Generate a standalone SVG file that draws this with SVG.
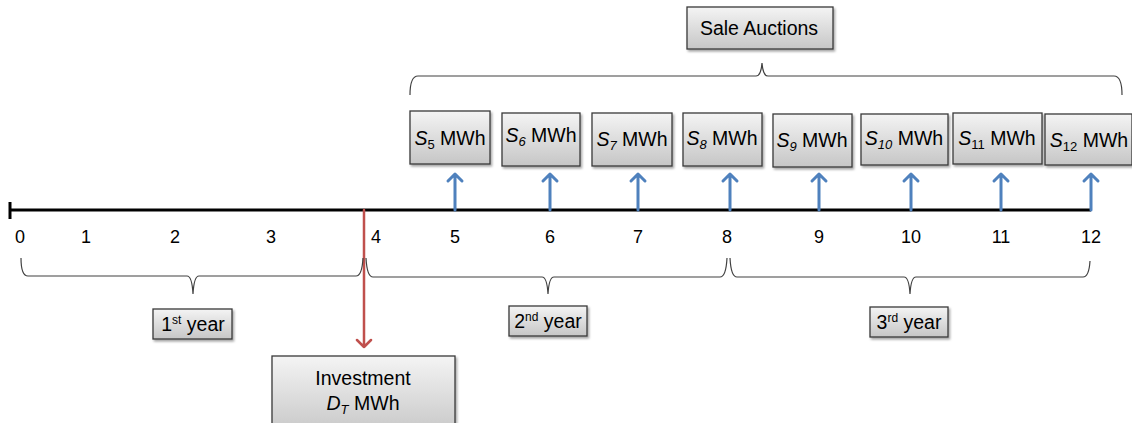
<svg xmlns="http://www.w3.org/2000/svg" width="1132" height="423" viewBox="0 0 1132 423">
<defs>
<linearGradient id="g" x1="0" y1="0" x2="0" y2="1">
<stop offset="0" stop-color="#f4f4f4"/>
<stop offset="1" stop-color="#c6c6c6"/>
</linearGradient>
<filter id="sh" x="-10%" y="-10%" width="130%" height="140%">
<feDropShadow dx="1.5" dy="2" stdDeviation="1.2" flood-color="#000" flood-opacity="0.35"/>
</filter>
</defs>
<style>
.box{fill:url(#g);stroke:#3a3a3a;stroke-width:1.3;filter:url(#sh)}
.t{font-family:"Liberation Sans",Arial,sans-serif;font-size:19.5px;fill:#000;text-anchor:middle}
.n{font-family:"Liberation Sans",Arial,sans-serif;font-size:18px;fill:#000;text-anchor:middle}
.i{font-style:italic}
.sub{font-size:13px}
.sup{font-size:12px}
.br{fill:none;stroke:#404040;stroke-width:1.2}
.blue{stroke:#4f81bd;stroke-width:3;fill:none;stroke-linecap:round;stroke-linejoin:round}
.red{stroke:#c0504d;stroke-width:2.5;fill:none;stroke-linecap:round;stroke-linejoin:round}
</style>

<g id="connectors">
<line x1="10" y1="210" x2="1091" y2="210" stroke="#000" stroke-width="3"/>
<line x1="10" y1="202" x2="10" y2="219" stroke="#000" stroke-width="3"/>
<g class="blue">
<path d="M455 210V174M448 181L455 174L462 181"/>
<path d="M550 210V174M543 181L550 174L557 181"/>
<path d="M638 210V174M631 181L638 174L645 181"/>
<path d="M730 210V174M723 181L730 174L737 181"/>
<path d="M819 210V174M812 181L819 174L826 181"/>
<path d="M911 210V174M904 181L911 174L918 181"/>
<path d="M1001 210V174M994 181L1001 174L1008 181"/>
<path d="M1091 210V174M1084 181L1091 174L1098 181"/>
</g>
<path class="red" d="M364 210V347M357 340L364 347L371 340"/>
<path class="br" d="M410 95Q410 76 418 76H756Q761 76 762 63Q763 76 768 76H1114Q1122 76 1122 95"/>
<path class="br" d="M21 258Q21 276 28 276H187Q192 276 193 294Q194 276 199 276H356Q362 276 363 258"/>
<path class="br" d="M366 258Q367 277 373 277H542Q547 277 548 294Q549 277 554 277H720Q726 277 727 258"/>
<path class="br" d="M730 258Q731 277 737 277H904Q909 277 910 294Q911 277 916 277H1083Q1089 277 1090 261"/>
</g>

<g id="ticks">
<text class="n" x="20" y="243">0</text>
<text class="n" x="86" y="243">1</text>
<text class="n" x="175" y="243">2</text>
<text class="n" x="271" y="243">3</text>
<text class="n" x="376" y="243">4</text>
<text class="n" x="455" y="243">5</text>
<text class="n" x="550" y="243">6</text>
<text class="n" x="638" y="243">7</text>
<text class="n" x="727" y="243">8</text>
<text class="n" x="819" y="243">9</text>
<text class="n" x="911" y="243">10</text>
<text class="n" x="1001" y="243">11</text>
<text class="n" x="1091" y="243">12</text>
</g>

<g id="sale-auctions">
<rect class="box" x="687" y="7" width="146" height="42"/>
<text class="t" x="759" y="35">Sale Auctions</text>
</g>

<g id="s5"><rect class="box" x="410" y="111" width="80" height="53"/>
<text class="t" x="450" y="145"><tspan class="i">S</tspan><tspan class="sub" dy="4">5</tspan><tspan dy="-4"> MWh</tspan></text></g>
<g id="s6"><rect class="box" x="502" y="113" width="78" height="53"/>
<text class="t" x="541" y="142"><tspan class="i">S</tspan><tspan class="i sub" dy="4">6</tspan><tspan dy="-4"> MWh</tspan></text></g>
<g id="s7"><rect class="box" x="592" y="113" width="80" height="53"/>
<text class="t" x="632" y="146"><tspan class="i">S</tspan><tspan class="i sub" dy="4">7</tspan><tspan dy="-4"> MWh</tspan></text></g>
<g id="s8"><rect class="box" x="683" y="113" width="79" height="53"/>
<text class="t" x="722" y="145"><tspan class="i">S</tspan><tspan class="i sub" dy="4">8</tspan><tspan dy="-4"> MWh</tspan></text></g>
<g id="s9"><rect class="box" x="773" y="114" width="79" height="53"/>
<text class="t" x="812" y="147"><tspan class="i">S</tspan><tspan class="i sub" dy="4">9</tspan><tspan dy="-4"> MWh</tspan></text></g>
<g id="s10"><rect class="box" x="861" y="114" width="87" height="51"/>
<text class="t" x="904" y="145"><tspan class="i">S</tspan><tspan class="i sub" dy="4">10</tspan><tspan dy="-4"> MWh</tspan></text></g>
<g id="s11"><rect class="box" x="953" y="113" width="89" height="51"/>
<text class="t" x="997" y="145"><tspan class="i">S</tspan><tspan class="sub" dy="4">11</tspan><tspan dy="-4"> MWh</tspan></text></g>
<g id="s12"><rect class="box" x="1045" y="114" width="87" height="51"/>
<text class="t" x="1089" y="147"><tspan class="i">S</tspan><tspan class="sub" dy="4">12</tspan><tspan dy="-4"> MWh</tspan></text></g>

<g id="year1"><rect class="box" x="153" y="309" width="79" height="30"/>
<text class="t" x="193" y="331">1<tspan class="sup" dy="-7">st</tspan><tspan dy="7"> year</tspan></text></g>
<g id="year2"><rect class="box" x="509" y="306" width="78" height="30"/>
<text class="t" x="548" y="328">2<tspan class="sup" dy="-7">nd</tspan><tspan dy="7"> year</tspan></text></g>
<g id="year3"><rect class="box" x="870" y="307" width="78" height="30"/>
<text class="t" x="909" y="329">3<tspan class="sup" dy="-7">rd</tspan><tspan dy="7"> year</tspan></text></g>

<g id="investment"><rect class="box" x="272" y="356" width="183" height="80"/>
<text class="t" x="363" y="385">Investment</text>
<text class="t" x="363" y="410"><tspan class="i">D</tspan><tspan class="i sub" dy="4">T</tspan><tspan dy="-4"> MWh</tspan></text></g>
</svg>
